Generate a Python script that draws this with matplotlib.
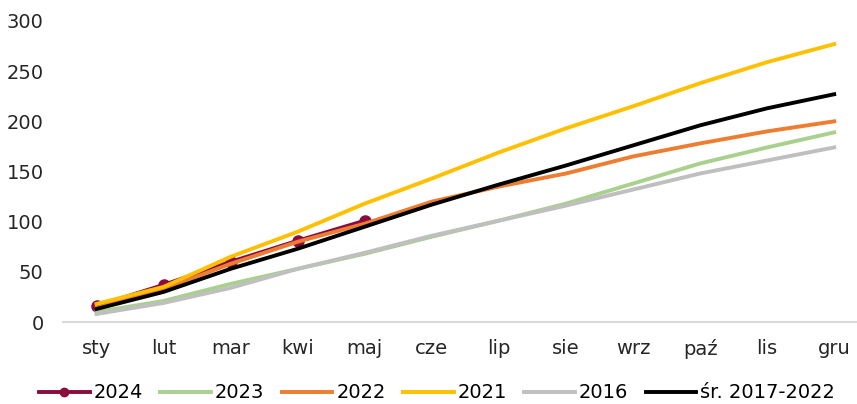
import matplotlib.pyplot as plt

months = ["sty", "lut", "mar", "kwi", "maj", "cze", "lip", "sie", "wrz", "paź", "lis", "gru"]

y2024 = [16, 37, 60, 81, 101]
y2023 = [10, 21, 38, 53, 68, 85, 101, 118, 138, 158, 174, 189]
y2022 = [14, 33, 58, 80, 98, 120, 135, 148, 165, 178, 190, 200]
y2021 = [18, 35, 65, 90, 118, 143, 169, 193, 215, 238, 259, 277]
y2016 = [8, 19, 34, 53, 69, 86, 101, 116, 132, 148, 161, 174]
avg = [13, 30, 53, 73, 95, 117, 137, 156, 176, 196, 213, 227]


def main():
    plt.rcParams['font.family'] = ['DejaVu Sans']
    fig = plt.figure(figsize=(8.57, 4.04), dpi=100)
    ax = fig.add_axes([63 / 857, 82 / 404, 794 / 857, 301 / 404])

    x = list(range(len(months)))
    lw = 2.8
    ax.plot(x[:len(y2024)], y2024, color='#8C0B3F', lw=lw, marker='o', ms=8, label='2024')
    ax.plot(x, y2023, color='#A9D18E', lw=lw, label='2023')
    ax.plot(x, y2022, color='#ED7D31', lw=lw, label='2022')
    ax.plot(x, y2021, color='#FFC000', lw=lw, label='2021')
    ax.plot(x, y2016, color='#BFBFBF', lw=lw, label='2016')
    ax.plot(x, avg, color='black', lw=lw, label='śr. 2017-2022')

    ax.set_xlim(-0.5, 11.34)
    ax.set_ylim(0, 300)
    ax.set_yticks(range(0, 301, 50))
    ax.set_xticks(x)
    ax.set_xticklabels(months)
    for s in ['top', 'right', 'left']:
        ax.spines[s].set_visible(False)
    ax.spines['bottom'].set_color('#D9D9D9')
    ax.spines['bottom'].set_linewidth(1.5)
    ax.tick_params(axis='both', length=0, labelsize=14, colors='#262626')
    ax.tick_params(axis='x', pad=12)
    ax.tick_params(axis='y', pad=14)

    fig.legend(loc='center', ncol=6, bbox_to_anchor=(0.51, 11 / 404), frameon=False,
               fontsize=14, handlelength=2.6, columnspacing=0.9, handletextpad=0.2, markerscale=0.75)
    fig.savefig('out.png', dpi=100)


if __name__ == "__main__":
    main()
